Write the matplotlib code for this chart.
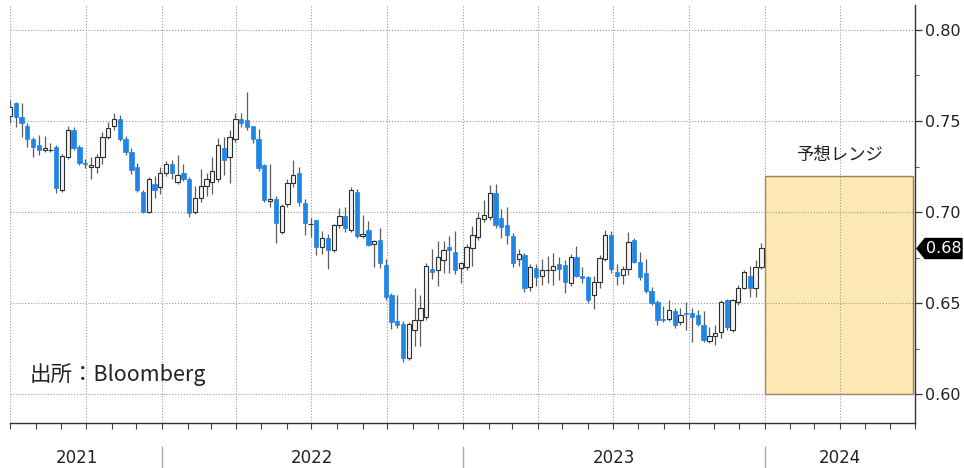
import matplotlib
matplotlib.use('Agg')
import matplotlib.pyplot as plt
import matplotlib.dates as mdates
import matplotlib.transforms as mtransforms
from matplotlib.patches import Rectangle, Polygon
from matplotlib.lines import Line2D
from matplotlib.ticker import MultipleLocator, FormatStrFormatter
import numpy as np
import pandas as pd

plt.rcParams['font.family'] = ['DejaVu Sans', 'Noto Sans CJK JP']

# ---------------- data (weekly AUD/USD candles) ----------------
first_week = '2021-07-01'
opens = [0.7525, 0.760, 0.752, 0.747, 0.740, 0.737, 0.734, 0.7340, 0.736, 0.712,
         0.730, 0.745, 0.736, 0.727, 0.7248, 0.725, 0.730, 0.741, 0.747, 0.751,
         0.740, 0.733, 0.725, 0.711, 0.700, 0.7155, 0.714, 0.7215, 0.7265, 0.7165,
         0.7215, 0.718, 0.700, 0.708, 0.7145, 0.7165, 0.718, 0.735, 0.730, 0.740,
         0.751, 0.7505, 0.747, 0.740, 0.726, 0.7062, 0.707, 0.689, 0.7045, 0.716,
         0.7215, 0.705, 0.6932, 0.6955, 0.681, 0.686, 0.679, 0.693, 0.698, 0.690,
         0.711, 0.687, 0.690, 0.6825, 0.6845, 0.671, 0.6545, 0.640, 0.6385, 0.620,
         0.6353, 0.6408, 0.6425, 0.669, 0.668, 0.6735, 0.681, 0.678, 0.6695, 0.670,
         0.6805, 0.6865, 0.6960, 0.6975, 0.7105, 0.6965, 0.693, 0.687, 0.6745, 0.6765,
         0.659, 0.6695, 0.6648, 0.6680, 0.668, 0.6715, 0.671, 0.661, 0.6755, 0.665,
         0.6645, 0.6545, 0.6615, 0.6745, 0.6875, 0.667, 0.6655, 0.669, 0.6847, 0.6727,
         0.6665, 0.6568, 0.6505, 0.6412, 0.6413, 0.6455, 0.6395, 0.6447, 0.6447, 0.6435,
         0.638, 0.6292, 0.632, 0.634, 0.6518, 0.6355, 0.6508, 0.6585, 0.665, 0.6585,
         0.670]
highs = [0.7615, 0.7605, 0.760, 0.749, 0.741, 0.7425, 0.742, 0.738, 0.737, 0.732,
         0.747, 0.7465, 0.737, 0.729, 0.730, 0.732, 0.744, 0.7495, 0.7545, 0.7535,
         0.742, 0.735, 0.727, 0.712, 0.7195, 0.720, 0.7245, 0.728, 0.7285, 0.7315,
         0.7265, 0.7195, 0.7145, 0.7235, 0.7215, 0.730, 0.7405, 0.741, 0.745, 0.7545,
         0.7545, 0.766, 0.7475, 0.7455, 0.7265, 0.7265, 0.709, 0.7045, 0.718, 0.7285,
         0.7245, 0.707, 0.6965, 0.6955, 0.6895, 0.688, 0.6935, 0.7025, 0.703, 0.7135,
         0.7125, 0.6985, 0.695, 0.6845, 0.6915, 0.6745, 0.6555, 0.6545, 0.640, 0.6395,
         0.6585, 0.6545, 0.672, 0.680, 0.684, 0.684, 0.687, 0.6895, 0.6725, 0.6825,
         0.6925, 0.700, 0.7065, 0.7150, 0.7155, 0.7015, 0.703, 0.6885, 0.6795, 0.6775,
         0.6715, 0.6715, 0.6745, 0.676, 0.6775, 0.6755, 0.6735, 0.677, 0.6815, 0.670,
         0.665, 0.665, 0.6765, 0.690, 0.6895, 0.6715, 0.6705, 0.689, 0.6855, 0.6782,
         0.674, 0.659, 0.6515, 0.6485, 0.652, 0.6475, 0.6475, 0.6505, 0.6475, 0.6465,
         0.6455, 0.637, 0.638, 0.652, 0.6525, 0.6525, 0.660, 0.668, 0.6705, 0.6735,
         0.683]
lows = [0.749, 0.7465, 0.741, 0.736, 0.730, 0.7315, 0.733, 0.733, 0.7105, 0.711,
        0.729, 0.734, 0.726, 0.724, 0.718, 0.7215, 0.7265, 0.740, 0.745, 0.739,
        0.7315, 0.721, 0.711, 0.6995, 0.6995, 0.708, 0.710, 0.720, 0.718, 0.7155,
        0.717, 0.6975, 0.699, 0.7055, 0.709, 0.710, 0.7165, 0.7205, 0.716, 0.7385,
        0.7465, 0.745, 0.738, 0.7225, 0.7055, 0.703, 0.683, 0.688, 0.703, 0.714,
        0.7035, 0.6875, 0.6865, 0.6765, 0.677, 0.669, 0.678, 0.6915, 0.689, 0.689,
        0.6855, 0.6855, 0.6815, 0.670, 0.6695, 0.652, 0.636, 0.6365, 0.6175, 0.619,
        0.6265, 0.6265, 0.6405, 0.663, 0.6595, 0.6665, 0.6665, 0.666, 0.661, 0.668,
        0.6705, 0.6845, 0.6945, 0.6955, 0.6915, 0.6855, 0.6825, 0.670, 0.6705, 0.656,
        0.6565, 0.6595, 0.660, 0.661, 0.660, 0.6625, 0.6555, 0.6595, 0.6645, 0.661,
        0.650, 0.647, 0.6585, 0.673, 0.6665, 0.660, 0.6605, 0.6655, 0.672, 0.6625,
        0.6555, 0.649, 0.638, 0.6395, 0.640, 0.6365, 0.638, 0.6355, 0.6285, 0.6375,
        0.6285, 0.628, 0.627, 0.631, 0.6355, 0.634, 0.649, 0.658, 0.6535, 0.6535,
        0.669]
closes = [0.7575, 0.752, 0.749, 0.740, 0.736, 0.734, 0.735, 0.7342, 0.713, 0.731,
          0.745, 0.735, 0.727, 0.7262, 0.7258, 0.730, 0.741, 0.746, 0.751, 0.740,
          0.733, 0.723, 0.712, 0.700, 0.718, 0.712, 0.7215, 0.7265, 0.7215, 0.7205,
          0.718, 0.6995, 0.708, 0.7145, 0.718, 0.7225, 0.737, 0.7285, 0.741, 0.751,
          0.749, 0.7467, 0.740, 0.724, 0.7065, 0.7070, 0.694, 0.7035, 0.716, 0.7205,
          0.7055, 0.694, 0.6937, 0.681, 0.686, 0.679, 0.693, 0.698, 0.691, 0.712,
          0.687, 0.688, 0.682, 0.684, 0.672, 0.6535, 0.6395, 0.638, 0.620, 0.6385,
          0.6408, 0.6475, 0.6705, 0.667, 0.6755, 0.679, 0.679, 0.668, 0.672, 0.681,
          0.6875, 0.697, 0.6985, 0.7105, 0.693, 0.692, 0.6875, 0.672, 0.677, 0.6585,
          0.670, 0.6645, 0.668, 0.6682, 0.6705, 0.669, 0.6615, 0.6755, 0.665, 0.664,
          0.6518, 0.6615, 0.675, 0.6875, 0.6685, 0.665, 0.669, 0.6835, 0.6727, 0.6645,
          0.6568, 0.650, 0.6408, 0.6405, 0.646, 0.638, 0.6435, 0.6443, 0.6425, 0.6385,
          0.630, 0.632, 0.6335, 0.6505, 0.637, 0.6518, 0.6585, 0.667, 0.6585, 0.670,
          0.6805]

last_price = 0.68
range_low, range_high = 0.60, 0.72
range_start, range_end = '2024-01-01', '2024-06-28'
range_label = '予想レンジ'
source_label = '出所：Bloomberg'
year_labels = ['2021', '2022', '2023', '2024']
year_label_dates = ['2021-09-20', '2022-07-02', '2023-07-02', '2024-04-01']
year_breaks = ['2022-01-01', '2023-01-01', '2024-01-01']

# ---------------- figure ----------------
W, H = 964, 468
fig = plt.figure(figsize=(W / 100, H / 100), dpi=100)
ax = fig.add_axes([10 / W, 45 / H, 905 / W, 418 / H])

x0, x1 = pd.Timestamp('2021-07-01'), pd.Timestamp('2024-07-01')
ax.set_xlim(x0, x1)
ax.set_ylim(0.5842, 0.8137)

dates = pd.date_range(first_week, periods=len(opens), freq='7D')
o = np.array(opens); h = np.array(highs); l = np.array(lows); c = np.array(closes)
up = c >= o

# forecast range box
rs, re_ = pd.Timestamp(range_start), pd.Timestamp(range_end)
box = Rectangle((mdates.date2num(rs), range_low),
                mdates.date2num(re_) - mdates.date2num(rs), range_high - range_low,
                facecolor='#fde8b3', edgecolor='#9a8650', linewidth=1.0, zorder=1)
ax.add_patch(box)

# candles
ax.vlines(dates, l, h, color='#5c5c5c', linewidth=0.9, zorder=3)
bw = 5.2
ax.bar(dates[up], np.maximum((c - o)[up], 0.0003), bottom=o[up], width=bw,
       color='#f3f3f3', edgecolor='#2e2e2e', linewidth=0.8, zorder=4)
ax.bar(dates[~up], np.maximum((o - c)[~up], 0.0003), bottom=c[~up], width=bw,
       color='#1f85e6', edgecolor='#1f85e6', linewidth=0.5, zorder=4)

# axes styling
ax.set_axisbelow('line')
ax.xaxis.set_major_locator(mdates.MonthLocator(bymonth=[1, 4, 7, 10]))
ax.xaxis.set_minor_locator(mdates.MonthLocator())
ax.yaxis.set_major_locator(MultipleLocator(0.05))
ax.yaxis.set_minor_locator(MultipleLocator(0.025))
ax.yaxis.set_major_formatter(FormatStrFormatter('%.2f'))
ax.yaxis.tick_right()
ax.grid(True, which='major', color='#9a9a9a', linestyle=(0, (1, 1.6)), linewidth=0.8)
ax.tick_params(axis='x', which='both', length=4, direction='out', color='#444444',
               labelbottom=False, width=0.8)
ax.tick_params(axis='y', which='major', length=5, direction='out', color='#333333',
               labelsize=11.5, labelcolor='#222222', pad=2, width=0.9)
ax.tick_params(axis='y', which='minor', length=3, direction='out', color='#555555', width=0.7)
for s in ['left', 'top']:
    ax.spines[s].set_visible(False)
for s in ['right', 'bottom']:
    ax.spines[s].set_color('#333333')
    ax.spines[s].set_linewidth(1.0)

# last price marker (black tag with left point)
_, ypix = ax.transData.transform((mdates.date2num(x1), last_price))
xs = ax.transAxes.transform((1.0, 0))[0]
tag = Polygon([(xs + 2, ypix), (xs + 10, ypix + 10), (xs + 47, ypix + 10),
               (xs + 47, ypix - 10), (xs + 10, ypix - 10)], closed=True,
              transform=None, facecolor='black', edgecolor='black', zorder=10)
fig.add_artist(tag)
fig.text((xs + 29) / W, ypix / H, f'{last_price:.2f}', ha='center', va='center',
         color='white', fontsize=11.5, zorder=11)

# annotations
ax.text(pd.Timestamp('2024-04-01'), 0.7315, range_label, ha='center', va='center',
        fontsize=12.5, color='#222222', family=['Noto Sans CJK JP', 'DejaVu Sans'], zorder=6)
ax.text(0.022, 0.115, source_label, transform=ax.transAxes, ha='left', va='center',
        fontsize=15.5, color='#222222', family=['Noto Sans CJK JP', 'DejaVu Sans'], zorder=6)

# year labels and separators
trf = mtransforms.blended_transform_factory(ax.transData, fig.transFigure)
for lab, d in zip(year_labels, year_label_dates):
    fig.text(mdates.date2num(pd.Timestamp(d)), 1 - 458 / H, lab, transform=trf,
             ha='center', va='center', fontsize=12, color='#222222')
for d in year_breaks:
    xd = mdates.date2num(pd.Timestamp(d))
    fig.add_artist(Line2D([xd, xd], [1 - 447 / H, 0], transform=trf,
                          color='#aaaaaa', linewidth=1.0))

fig.savefig('out.png', dpi=100)
